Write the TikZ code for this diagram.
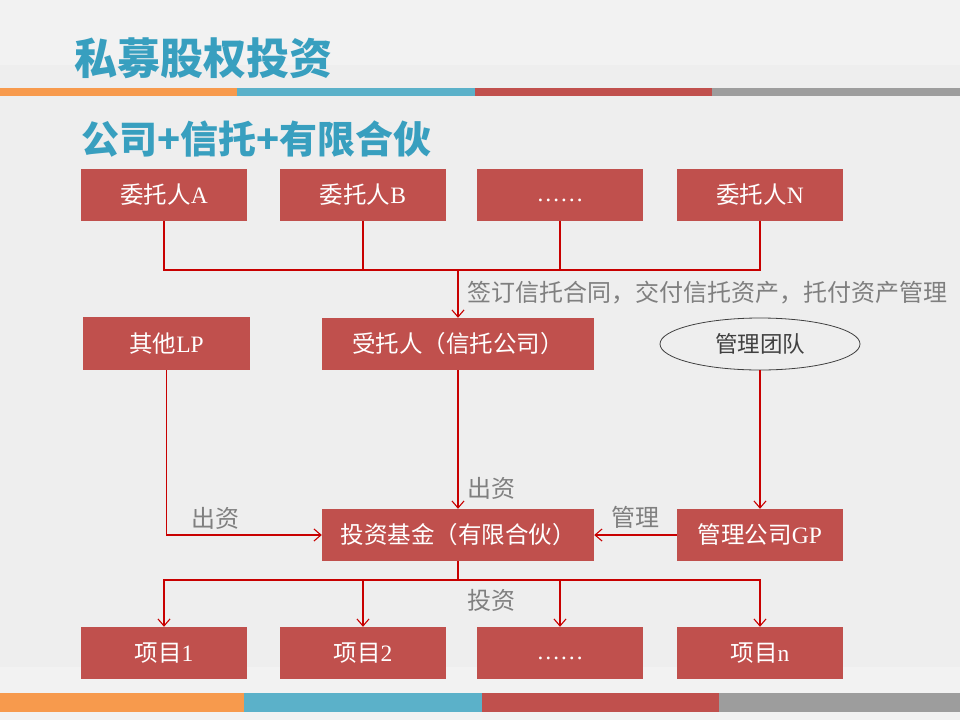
\documentclass[tikz,border=0pt]{standalone}
\usepackage{fontspec}
\setmainfont{Liberation Serif}
\newfontfamily\cjk{Noto Sans CJK SC}
\usetikzlibrary{arrows.meta,shapes.geometric}
\definecolor{bgmain}{HTML}{EEEEEE}
\definecolor{bglight}{HTML}{F2F2F2}
\definecolor{sorange}{HTML}{F79A4D}
\definecolor{sblue}{HTML}{5BB1C9}
\definecolor{sred}{HTML}{C0504D}
\definecolor{sgray}{HTML}{9D9D9D}
\definecolor{boxred}{HTML}{C0504D}
\definecolor{linered}{HTML}{C80000}
\definecolor{titleblue}{HTML}{389FBF}
\definecolor{labelgray}{HTML}{7F7F7F}
\definecolor{darktext}{HTML}{404040}
\tikzset{
  redbox/.style={fill=boxred, text=white, minimum width=166pt, minimum height=52pt, inner sep=0pt, font=\fontsize{23.5}{26}\selectfont},
  conn/.style={draw=linered, line width=1.1pt},
  arr/.style={conn, -{Straight Barb[length=7pt,width=12pt,line width=1.1pt]}},
  lbl/.style={anchor=west, text=labelgray, inner sep=0pt, font=\cjk\fontsize{24}{26}\selectfont},
}
\begin{document}
\begin{tikzpicture}[x=1pt,y=-1pt]
\useasboundingbox (0,0) rectangle (960,720);
% background
\fill[bgmain] (0,0) rectangle (960,720);
\fill[bglight] (0,0) rectangle (960,65);
\fill[bglight] (0,667) rectangle (960,720);
% top stripe
\fill[sorange] (0,88) rectangle (237,96);
\fill[sblue] (237,88) rectangle (475,96);
\fill[sred] (475,88) rectangle (712,96);
\fill[sgray] (712,88) rectangle (960,96);
% bottom stripe
\fill[sorange] (0,693) rectangle (244,712);
\fill[sblue] (244,693) rectangle (482,712);
\fill[sred] (482,693) rectangle (719,712);
\fill[sgray] (719,693) rectangle (960,712);
% titles
\node[anchor=west, inner sep=0pt, text=titleblue, font=\cjk\bfseries\fontsize{43}{46}\selectfont] (title) at (74,58) {私募股权投资};
\node[anchor=west, inner sep=0pt, text=titleblue, font=\cjk\bfseries\fontsize{38}{40}\selectfont] (sub) at (81,139) {公司+信托+有限合伙};
% row 1
\node[redbox] (A) at (164,195) {{\cjk 委托人}A};
\node[redbox] (B) at (363,195) {{\cjk 委托人}B};
\node[redbox] (D1) at (560,195) {\smash{\raisebox{-6pt}{……}}};
\node[redbox] (N) at (760,195) {{\cjk 委托人}N};
% row 2
\node[redbox, minimum width=167pt, minimum height=53pt] (LP) at (166.5,343.5) {{\cjk 其他}LP};
\node[redbox, minimum width=272pt] (TR) at (458,344) {\cjk 受托人（信托公司）};
\node[draw=darktext, line width=0.8pt, ellipse, minimum width=200pt, minimum height=52pt, inner sep=0pt, text=darktext, font=\cjk\fontsize{22.5}{24}\selectfont] (GT) at (760,344) {管理团队};
% row 3
\node[redbox, minimum width=272pt] (F) at (458,535) {\cjk 投资基金（有限合伙）};
\node[redbox] (GP) at (760,535) {{\cjk 管理公司}GP};
% row 4
\node[redbox] (P1) at (164,653) {{\cjk 项目}1};
\node[redbox] (P2) at (363,653) {{\cjk 项目}2};
\node[redbox] (P3) at (560,653) {\smash{\raisebox{-6pt}{……}}};
\node[redbox] (Pn) at (760,653) {{\cjk 项目}n};
% connectors top
\coordinate (busT) at (458,270);
\draw[conn] (A.south) |- (busT) -| (N.south);
\draw[conn] (B.south) -- (B.south |- busT);
\draw[conn] (D1.south) -- (D1.south |- busT);
\draw[arr] (busT) -- (TR.north);
\node[lbl] (l1) at (467,293) {签订信托合同，交付信托资产，托付资产管理};
% middle
\draw[arr] (TR.south) -- (F.north);
\node[lbl] (l2) at (467,488) {出资};
\draw[arr] (LP.south) |- (F.west);
\node[lbl] (l3) at (191,518) {出资};
\draw[arr] (GT.south) -- (GP.north);
\draw[arr] (GP.west) -- (F.east);
\node[lbl] (l4) at (611,517) {管理};
% bottom
\coordinate (busB) at (458,580);
\draw[conn] (F.south) -- (busB);
\draw[arr] (busB) -| (P1.north);
\draw[arr] (busB) -| (P2.north);
\draw[arr] (busB) -| (P3.north);
\draw[arr] (busB) -| (Pn.north);
\node[lbl] (l5) at (467,600) {投资};
\end{tikzpicture}
\end{document}
